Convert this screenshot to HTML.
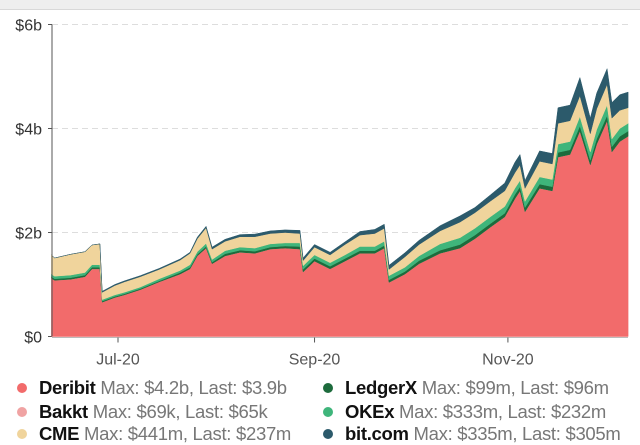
<!DOCTYPE html>
<html><head><meta charset="utf-8"><style>
body{margin:0;width:640px;height:441px;overflow:hidden;background:#fff;font-family:"Liberation Sans",sans-serif}
.leg{position:absolute;font-size:18.5px;line-height:22px;color:#777;white-space:nowrap;letter-spacing:-0.3px}
.leg b{color:#111;font-weight:bold}
.dot{position:absolute;top:6px;width:10px;height:10px;border-radius:50%}
</style></head><body>
<div style="position:absolute;left:0;top:0;width:640px;height:9px;background:#eeeeee;border-bottom:1px solid #d8d8d8"></div>
<svg id="chart" width="640" height="441" style="position:absolute;left:0;top:0"></svg>
<div class="leg" style="left:39px;top:377px"><span class="dot" style="left:-22px;background:#f26b6b"></span><b>Deribit</b> Max: $4.2b, Last: $3.9b</div>
<div class="leg" style="left:39px;top:401px"><span class="dot" style="left:-22px;background:#f0a3a3"></span><b>Bakkt</b> Max: $69k, Last: $65k</div>
<div class="leg" style="left:39px;top:423px"><span class="dot" style="left:-22px;background:#f0d49c"></span><b>CME</b> Max: $441m, Last: $237m</div>
<div class="leg" style="left:345px;top:377px"><span class="dot" style="left:-22px;background:#1d6b3c"></span><b>LedgerX</b> Max: $99m, Last: $96m</div>
<div class="leg" style="left:345px;top:401px"><span class="dot" style="left:-22px;background:#3fb57b"></span><b>OKEx</b> Max: $333m, Last: $232m</div>
<div class="leg" style="left:345px;top:423px"><span class="dot" style="left:-22px;background:#2c5a6b"></span><b>bit.com</b> Max: $335m, Last: $305m</div>
<script>
const days=[0,1,6,10.6,12.8,15.3,16,20,23,28,34,40.6,43.7,46,48.8,50.7,54.8,59.5,64.2,69,73.7,78.4,79.4,83,87.9,92.6,97.3,102,105,106.5,111.5,116,122.6,128.9,133.6,138.4,143,146.2,147.8,149.4,154,158,159.8,163.6,166.7,170,172,175.3,176.8,179.3,181.9];
const deribit=[1.12,1.08,1.1,1.15,1.3,1.3,0.66,0.75,0.8,0.9,1.05,1.2,1.3,1.55,1.7,1.4,1.55,1.62,1.6,1.68,1.7,1.68,1.24,1.45,1.3,1.45,1.6,1.6,1.7,1.04,1.2,1.4,1.6,1.7,1.88,2.1,2.3,2.65,2.8,2.4,2.85,2.8,3.45,3.5,3.95,3.3,3.7,4.15,3.55,3.75,3.85];
const bakkt=days.map(()=>0.00007);
const ledgerx=[0.03,0.03,0.03,0.03,0.03,0.03,0.02,0.02,0.02,0.02,0.02,0.03,0.03,0.03,0.03,0.03,0.04,0.04,0.04,0.04,0.04,0.05,0.05,0.05,0.05,0.05,0.05,0.05,0.05,0.05,0.05,0.06,0.06,0.07,0.07,0.07,0.07,0.08,0.08,0.08,0.08,0.08,0.09,0.09,0.1,0.09,0.1,0.1,0.1,0.1,0.1];
const okex=[0.05,0.05,0.05,0.05,0.05,0.05,0.03,0.03,0.03,0.03,0.04,0.04,0.05,0.05,0.06,0.05,0.06,0.06,0.06,0.06,0.06,0.07,0.07,0.07,0.07,0.07,0.08,0.08,0.08,0.08,0.08,0.09,0.12,0.13,0.13,0.13,0.13,0.12,0.12,0.12,0.14,0.14,0.16,0.16,0.18,0.16,0.18,0.2,0.15,0.15,0.15];
const cme=[0.37,0.35,0.4,0.4,0.38,0.4,0.14,0.18,0.2,0.2,0.18,0.2,0.22,0.25,0.3,0.2,0.18,0.2,0.22,0.2,0.2,0.18,0.1,0.15,0.15,0.2,0.22,0.25,0.25,0.12,0.2,0.22,0.25,0.3,0.3,0.3,0.3,0.3,0.3,0.25,0.3,0.3,0.4,0.4,0.4,0.35,0.4,0.4,0.4,0.35,0.3];
const bitcom=[0,0,0,0,0,0,0.02,0.02,0.02,0.02,0.02,0.02,0.02,0.03,0.03,0.04,0.04,0.04,0.05,0.05,0.05,0.06,0.05,0.05,0.05,0.05,0.07,0.08,0.08,0.08,0.08,0.08,0.1,0.12,0.1,0.12,0.15,0.2,0.2,0.15,0.2,0.2,0.3,0.3,0.35,0.3,0.3,0.3,0.3,0.3,0.3];
const yTicks=[0,2,4,6];
const yLabels=["$0","$2b","$4b","$6b"];
const xTickDays=[21,83,144];
const xLabels=["Jul-20","Sep-20","Nov-20"];
const series=[["deribit",deribit,"#f26b6b"],["bakkt",bakkt,"#f0a3a3"],["ledgerx",ledgerx,"#1d6b3c"],["okex",okex,"#3fb57b"],["cme",cme,"#f0d49c"],["bitcom",bitcom,"#2c5a6b"]];
const NS="http://www.w3.org/2000/svg",svg=document.getElementById("chart");
const X0=52,X1=628,Y0=336.5,Y6=24.5;
const x=d=>118+(d-21)*3.17;
const y=v=>Y0-(v/6)*(Y0-Y6);
function mk(t,a){const e=document.createElementNS(NS,t);for(const k in a)e.setAttribute(k,a[k]);svg.appendChild(e);return e;}
yTicks.forEach((t,i)=>{
 if(t>0){const g=mk("line",{x1:X0,x2:X1,y1:y(t),y2:y(t),stroke:"#ddd","stroke-dasharray":"6,4"});
 
 }
 const tk=mk("line",{x1:X0-4,x2:X0,y1:y(t),y2:y(t),stroke:"#555"});
 
 
 const l=mk("text",{x:X0-10,y:y(t)+6,"text-anchor":"end","font-size":"16",fill:"#333","font-family":"Liberation Sans"});
 l.textContent=yLabels[i];
 
 
});
let base=days.map(()=>0);
series.forEach(([n,vals,col])=>{
 const top=base.map((b,i)=>b+vals[i]);
 let d="M"+days.map((dd,i)=>x(dd).toFixed(1)+","+y(top[i]).toFixed(1)).join("L");
 for(let i=days.length-1;i>=0;i--)d+="L"+x(days[i]).toFixed(1)+","+y(base[i]).toFixed(1);
 const p=mk("path",{d:d+"Z",fill:col,stroke:col,"stroke-width":"0.5"});
 
 
 base=top;
});
const ax=mk("line",{x1:X0,x2:X0,y1:Y6,y2:Y0,stroke:"#555"});


const bx=mk("line",{x1:X0,x2:X1,y1:Y0+1,y2:Y0+1,stroke:"#bbb"});


xTickDays.forEach((d,i)=>{
 const tk=mk("line",{x1:x(d),x2:x(d),y1:Y0+1,y2:Y0+6,stroke:"#555"});
 
 
 const l=mk("text",{x:x(d),y:Y0+28,"text-anchor":"middle","font-size":"16",fill:"#555","font-family":"Liberation Sans"});
 l.textContent=xLabels[i];
 
 
});
</script>
</body></html>
